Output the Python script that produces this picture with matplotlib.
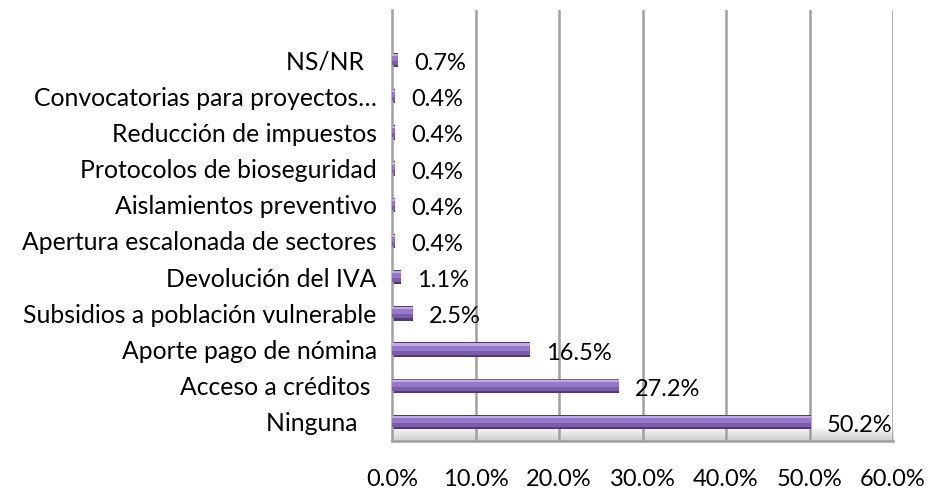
import matplotlib as mpl
mpl.use('Agg')
import matplotlib.pyplot as plt
import numpy as np
from matplotlib.ticker import FuncFormatter

categories = ['Ninguna   ', 'Acceso a créditos ', 'Aporte pago de nómina',
              'Subsidios a población vulnerable', 'Devolución del IVA',
              'Apertura escalonada de sectores', 'Aislamientos preventivo',
              'Protocolos de bioseguridad', 'Reducción de impuestos',
              'Convocatorias para proyectos…', 'NS/NR  ']
values = [50.2, 27.2, 16.5, 2.5, 1.1, 0.4, 0.4, 0.4, 0.4, 0.4, 0.7]
xticks = [0, 10, 20, 30, 40, 50, 60]

plt.rcParams['font.family'] = ['Lato', 'DejaVu Sans']

fig = plt.figure(figsize=(9.3, 4.88), dpi=100)
ax = fig.add_axes([392 / 930, 47 / 488, 501 / 930, 431 / 488])

y = np.arange(len(categories))
h = 0.40
ylo = -0.525

# floor of the 3D chart, a light vertical gradient
grad = np.linspace(0.80, 0.97, 64).reshape(-1, 1)
ax.imshow(grad, extent=[0, 60, ylo, -0.19], origin='lower', cmap='gray',
          vmin=0, vmax=1, aspect='auto', zorder=0)

for xt in xticks[1:]:
    ax.axvline(xt, color='#a0a0a0', lw=1.8, zorder=1)

# bars with a simple shading: dark base, body, light top edge
ax.barh(y, values, height=h, color='#4f3c72', zorder=2)
ax.barh(y + 0.02, values, height=h * 0.78, color='#7a5eaa', zorder=3)
ax.barh(y + 0.07, values, height=h * 0.50, color='#9678c8', zorder=3)
ax.barh(y + 0.14, values, height=h * 0.16, color='#c2aae6', zorder=4)

for yi, v in zip(y, values):
    ax.annotate(f'{v:.1f}%', (v, yi), xytext=(11.5, -2.6),
                textcoords='offset points', ha='left', va='center',
                fontsize=17, color='#000000', zorder=5)

ax.set_xlim(0, 60)
ax.set_ylim(ylo, 11.38)
ax.set_xticks(xticks)
ax.xaxis.set_major_formatter(FuncFormatter(lambda v, p: f'{v:.1f}%'))
ax.set_yticks(y, categories)
ax.tick_params(axis='both', length=0)
ax.tick_params(axis='x', pad=20, labelsize=17)
ax.tick_params(axis='y', pad=11, labelsize=17.8)

for side in ['top', 'right']:
    ax.spines[side].set_visible(False)
for side in ['left', 'bottom']:
    ax.spines[side].set_color('#a0a0a0')
    ax.spines[side].set_linewidth(1.8)

fig.savefig('out.png', dpi=100)
